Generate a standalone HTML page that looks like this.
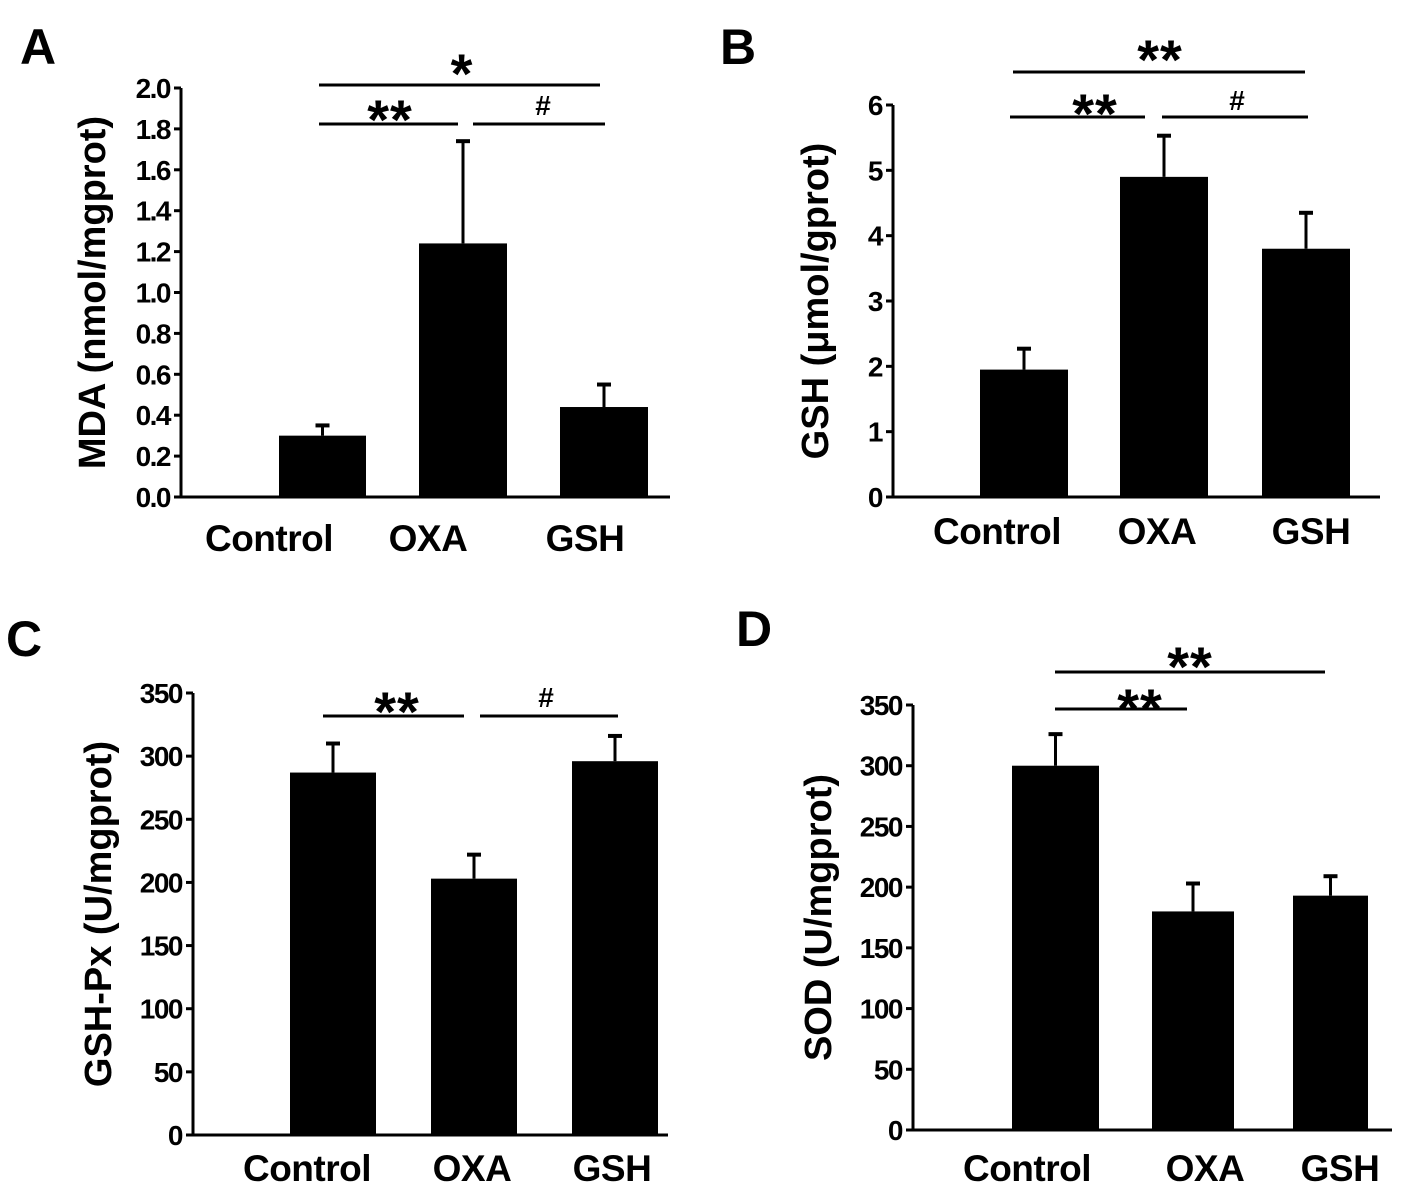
<!DOCTYPE html>
<html><head><meta charset="utf-8"><style>
body{margin:0;background:#fff}
svg{display:block;font-family:"Liberation Sans",Arial,sans-serif;font-weight:bold}
</style></head><body>
<svg id="fig" width="1417" height="1196" viewBox="0 0 1417 1196" xmlns="http://www.w3.org/2000/svg"></svg>
<script>
const categories = ["Control","OXA","GSH"];
const mdaValues = [0.30,1.24,0.44];
const mdaErrors = [0.35,1.74,0.55];
const mdaTicks = ["0.0","0.2","0.4","0.6","0.8","1.0","1.2","1.4","1.6","1.8","2.0"];
const gshValues = [1.95,4.9,3.8];
const gshErrors = [2.27,5.53,4.35];
const gshTicks = ["0","1","2","3","4","5","6"];
const gpxValues = [287,203,296];
const gpxErrors = [310,222,316];
const gpxTicks = ["0","50","100","150","200","250","300","350"];
const sodValues = [300,180,193];
const sodErrors = [326,203,209];
const sodTicks = ["0","50","100","150","200","250","300","350"];

const NS="http://www.w3.org/2000/svg";
const svg=document.getElementById('fig');
function mk(tag,at,parent){const e=document.createElementNS(NS,tag);for(const k in at)e.setAttribute(k,at[k]);(parent||svg).appendChild(e);return e;}
function txt(s,at,parent){const e=mk('text',at,parent);e.textContent=s;return e;}

const panels=[
 {id:'a',letter:'A',lx:20,ly:64,title:'MDA (nmol/mgprot)',tx:92,vals:mdaValues,errs:mdaErrors,ticks:mdaTicks,ax:181,ay0:497,ay1:88,axEnd:670,
  bars:[[279,366],[419,507],[560,648]],labX:[269,428,585],labY:551,
  sig:[[319,600,85,'*',462,62],[319,458,124,'**',390,108],[473,605,124,'#',543,105]]},
 {id:'b',letter:'B',lx:720,ly:64,title:'GSH (μmol/gprot)',tx:815,vals:gshValues,errs:gshErrors,ticks:gshTicks,ax:893,ay0:497,ay1:105,axEnd:1380,
  bars:[[980,1068],[1120,1208],[1262,1350]],labX:[997,1157,1311],labY:544,
  sig:[[1013,1305,72,'**',1160,48],[1010,1145,117,'**',1095,102],[1162,1308,117,'#',1237,100]]},
 {id:'c',letter:'C',lx:6,ly:656,title:'GSH-Px (U/mgprot)',tx:98,vals:gpxValues,errs:gpxErrors,ticks:gpxTicks,ax:193,ay0:1135,ay1:693,axEnd:668,
  bars:[[290,376],[431,517],[572,658]],labX:[307,472,612],labY:1181,
  sig:[[323,464,716,'**',397,700],[480,618,716,'#',546,697]]},
 {id:'d',letter:'D',lx:736,ly:646,title:'SOD (U/mgprot)',tx:818,vals:sodValues,errs:sodErrors,ticks:sodTicks,ax:913,ay0:1130,ay1:705,axEnd:1392,
  bars:[[1012,1099],[1152,1234],[1293,1368]],labX:[1027,1205,1340],labY:1181,
  sig:[[1055,1325,672,'**',1190,655],[1055,1187,709,'**',1140,697]]}
];

panels.forEach(p=>{
  const g=mk('g',{});
  
  
  const L=txt(p.letter,{x:p.lx,y:p.ly,'font-size':50},g);
  
  
  const maxV=parseFloat(p.ticks[p.ticks.length-1]);
  const y=v=>p.ay0-(v/maxV)*(p.ay0-p.ay1);
  const ya=mk('line',{x1:p.ax,y1:p.ay1,x2:p.ax,y2:p.ay0+1.5,stroke:'#000','stroke-width':3},g);
  
  
  p.ticks.forEach(t=>{
    const v=parseFloat(t),yy=y(v);
    mk('line',{x1:p.ax-7,y1:yy,x2:p.ax,y2:yy,stroke:'#000','stroke-width':3},g);
    const tl=txt(t,{x:p.ax-11,y:yy+10,'font-size':28,'text-anchor':'end','letter-spacing':-1.5},g);
    
    
  });
  p.vals.forEach((v,i)=>{
    const [x0,x1]=p.bars[i],cx=(x0+x1)/2;
    const e=p.errs[i];
    mk('line',{x1:cx,y1:y(v),x2:cx,y2:y(e),stroke:'#000','stroke-width':3},g);
    mk('line',{x1:cx-7,y1:y(e),x2:cx+7,y2:y(e),stroke:'#000','stroke-width':4},g);
    const r=mk('rect',{x:x0,y:y(v),width:x1-x0,height:p.ay0-y(v),fill:'#000'},g);
    
    
    const cl=txt(categories[i],{x:p.labX[i],y:p.labY,'font-size':37,'text-anchor':'middle','letter-spacing':-0.5},g);
    
    
  });
  const xa=mk('line',{x1:p.ax-1.5,y1:p.ay0,x2:p.axEnd,y2:p.ay0,stroke:'#000','stroke-width':3},g);
  
  
  const cy=(p.ay0+p.ay1)/2;
  const yt=txt(p.title,{x:p.tx,y:cy,'font-size':38,'text-anchor':'middle',transform:`rotate(-90 ${p.tx} ${cy})`,dy:13},g);
  
  
  p.sig.forEach(s=>{
    const ln=mk('line',{x1:s[0],y1:s[2],x2:s[1],y2:s[2],stroke:'#000','stroke-width':3},g);
    
    
    const isHash=s[3]==='#';
    const st=txt(s[3],{x:s[4],y:isHash?s[5]+10:s[5]+31,'font-size':isHash?28:56,'text-anchor':'middle','letter-spacing':isHash?0:1},g);
    
    
  });
});
</script>
</body></html>
